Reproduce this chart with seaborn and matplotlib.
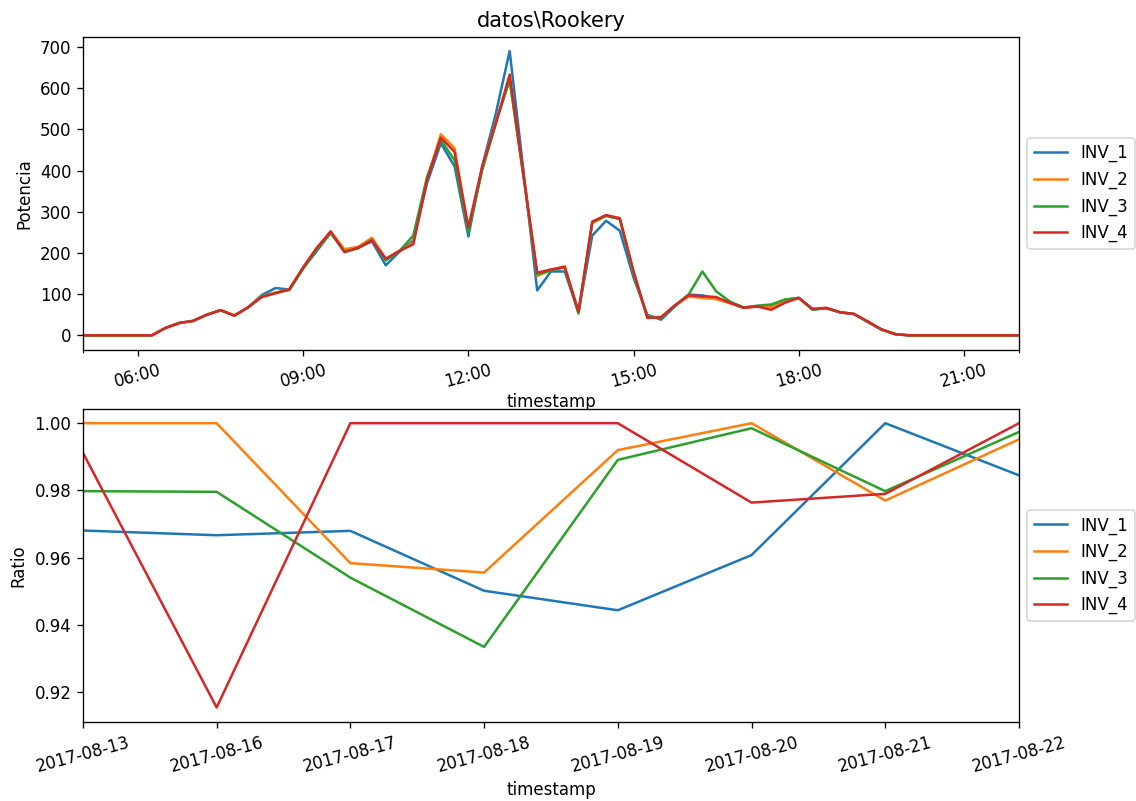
import matplotlib
matplotlib.use("Agg")
import matplotlib.pyplot as plt
import matplotlib.dates as mdates
from matplotlib.ticker import FixedLocator
import seaborn as sns
import pandas as pd

# 15-minute samples, 05:00 -> 22:00
times = pd.date_range("2017-08-22 05:00", "2017-08-22 22:00", freq="15min")

inv_1 = [0, 0, 0, 0, 0, 0, 18, 30, 35, 50, 61, 48, 68, 98, 115, 111,
         163, 205, 250, 205, 213, 228, 170, 203, 230, 370, 466, 410, 240, 410, 539, 690,
         400, 109, 155, 155, 56, 242, 278, 254, 140, 50, 38, 70, 99, 97, 90, 79,
         67, 71, 72, 86, 91, 64, 65, 56, 52, 33, 14, 3, 0, 0, 0, 0,
         0, 0, 0, 0, 0]
inv_2 = [0, 0, 0, 0, 0, 0, 18, 30, 35, 50, 61, 48, 68, 95, 104, 112,
         165, 212, 252, 209, 215, 237, 186, 205, 225, 380, 488, 454, 256, 405, 520, 620,
         388, 144, 158, 168, 55, 272, 290, 285, 152, 45, 44, 72, 94, 91, 88, 78,
         67, 70, 68, 82, 90, 63, 66, 56, 52, 33, 14, 3, 0, 0, 0, 0,
         0, 0, 0, 0, 0]
inv_3 = [0, 0, 0, 0, 0, 0, 18, 30, 35, 50, 61, 48, 68, 95, 103, 110,
         162, 208, 248, 203, 211, 232, 182, 205, 242, 385, 474, 425, 250, 400, 515, 620,
         385, 148, 157, 165, 53, 275, 290, 282, 150, 45, 42, 72, 99, 155, 107, 82,
         68, 72, 75, 87, 91, 62, 66, 56, 52, 33, 14, 3, 0, 0, 0, 0,
         0, 0, 0, 0, 0]
inv_4 = [0, 0, 0, 0, 0, 0, 18, 30, 35, 50, 61, 48, 68, 93, 102, 112,
         165, 213, 252, 202, 213, 230, 186, 205, 221, 376, 480, 445, 262, 409, 515, 633,
         392, 152, 160, 166, 58, 276, 292, 284, 156, 42, 44, 73, 97, 95, 93, 79,
         67, 70, 62, 79, 91, 64, 67, 56, 52, 34, 15, 3, 0, 0, 0, 0,
         0, 0, 0, 0, 0]

# daily ratio
days = ["2017-08-13", "2017-08-16", "2017-08-17", "2017-08-18",
        "2017-08-19", "2017-08-20", "2017-08-21", "2017-08-22"]
ratio_1 = [0.9681, 0.9667, 0.9680, 0.9502, 0.9444, 0.9608, 1.0000, 0.9845]
ratio_2 = [1.0000, 1.0000, 0.9584, 0.9556, 0.9920, 1.0000, 0.9770, 0.9952]
ratio_3 = [0.9798, 0.9796, 0.9541, 0.9335, 0.9891, 0.9985, 0.9798, 0.9974]
ratio_4 = [0.9912, 0.9155, 1.0000, 1.0000, 1.0000, 0.9764, 0.9790, 1.0000]

names = ["INV_1", "INV_2", "INV_3", "INV_4"]
palette = ["#1f77b4", "#ff7f0e", "#2ca02c", "#d62728"]

power = pd.DataFrame(dict(zip(names, [inv_1, inv_2, inv_3, inv_4])), index=times)
power.index.name = "timestamp"
ratio = pd.DataFrame(dict(zip(names, [ratio_1, ratio_2, ratio_3, ratio_4])),
                     index=range(len(days)))
ratio.index.name = "timestamp"

fig, (ax1, ax2) = plt.subplots(2, 1, figsize=(1136 / 120, 801 / 120), dpi=120)
fig.subplots_adjust(left=0.073, right=0.897, top=0.954, bottom=0.099, hspace=0.19)

# top: power along the day
sns.lineplot(data=power, ax=ax1, palette=palette, dashes=False, linewidth=1.5)
ax1.set_xlim(times[0], times[-1])
ax1.xaxis.set_major_locator(mdates.HourLocator(byhour=range(6, 22, 3)))
ax1.xaxis.set_major_formatter(mdates.DateFormatter("%H:%M"))
ax1.xaxis.set_minor_locator(FixedLocator(mdates.date2num([times[0], times[-1]])))
ax1.tick_params(axis="x", labelrotation=15)
ax1.set_title("datos\\Rookery", fontsize=12.5)
ax1.set_xlabel("timestamp", labelpad=1)
ax1.set_ylabel("Potencia")
sns.move_legend(ax1, "center left", bbox_to_anchor=(1, 0.5), title=None)

# bottom: ratio per day
sns.lineplot(data=ratio, ax=ax2, palette=palette, dashes=False, linewidth=1.5)
ax2.set_xlim(0, len(days) - 1)
ax2.set_xticks(range(len(days)))
ax2.set_xticklabels(days)
ax2.tick_params(axis="x", labelrotation=15)
ax2.set_xlabel("timestamp", labelpad=3)
ax2.set_ylabel("Ratio")
sns.move_legend(ax2, "center left", bbox_to_anchor=(1, 0.5), title=None)

fig.savefig("out.png", dpi=120)
